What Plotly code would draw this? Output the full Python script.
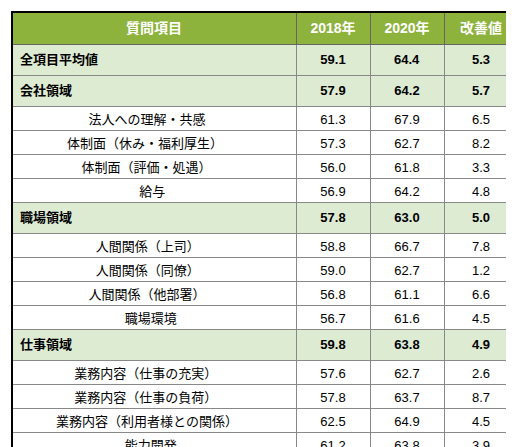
import plotly.graph_objects as go

items = ["全項目平均値", "会社領域", "法人への理解・共感", "体制面（休み・福利厚生）", "体制面（評価・処遇）", "給与",
         "職場領域", "人間関係（上司）", "人間関係（同僚）", "人間関係（他部署）", "職場環境",
         "仕事領域", "業務内容（仕事の充実）", "業務内容（仕事の負荷）", "業務内容（利用者様との関係）", "能力開発", "その他"]
y2018 = [59.1, 57.9, 61.3, 57.3, 56.0, 56.9, 57.8, 58.8, 59.0, 56.8, 56.7, 59.8, 57.6, 57.8, 62.5, 61.2, 60.6]
y2020 = [64.4, 64.2, 67.9, 62.7, 61.8, 64.2, 63.0, 66.7, 62.7, 61.1, 61.6, 63.8, 62.7, 63.7, 64.9, 63.8, 64.4]
improve = [5.3, 5.7, 6.5, 8.2, 3.3, 4.8, 5.0, 7.8, 1.2, 6.6, 4.5, 4.9, 2.6, 8.7, 4.5, 3.9, 3.8]
headers = ["質問項目", "2018年", "2020年", "改善値"]
section = [True, True, False, False, False, False, True, False, False, False, False, True, False, False, False, False, True]

def fmt(v, s):
    t = f"{v:.1f}"
    return f"<b>{t}</b>" if s else t

def label(t, s):
    if s:
        return f"<b>{t}</b>"
    pad = max(0, int(((284 - 16) - 14 * len(t)) / 2 / 3.6))
    return "\u00a0" * pad + t

col0 = [label(t, s) for t, s in zip(items, section)]
cols = [col0, [fmt(v, s) for v, s in zip(y2018, section)],
        [fmt(v, s) for v, s in zip(y2020, section)], [fmt(v, s) for v, s in zip(improve, section)]]
fills = ["#DDEBD3" if s else "white" for s in section]

font = "Liberation Sans, Noto Sans CJK JP, sans-serif"
fig = go.Figure(go.Table(
    columnwidth=[284, 74, 74, 74],
    header=dict(values=[f"<b>{h}</b>" for h in headers], fill_color="#8DB33D",
                font=dict(color="white", size=14, family=font), align="center", height=26,
                line=dict(color="#666666", width=1)),
    cells=dict(values=cols, fill_color=[fills] * 4,
               align=["left", "center", "center", "center"],
               font=dict(color="black", size=13, family=font),
               height=24, line=dict(color="#888888", width=1)),
    domain=dict(x=[0, 1], y=[0, 1]),
))
fig.update_layout(width=514, height=447, margin=dict(l=4, r=4, t=4, b=4), paper_bgcolor="white")
fig.add_shape(type="rect", xref="paper", yref="paper", x0=0, x1=1, y0=0.005, y1=1,
              line=dict(color="black", width=2))
fig.write_html("out.html")
